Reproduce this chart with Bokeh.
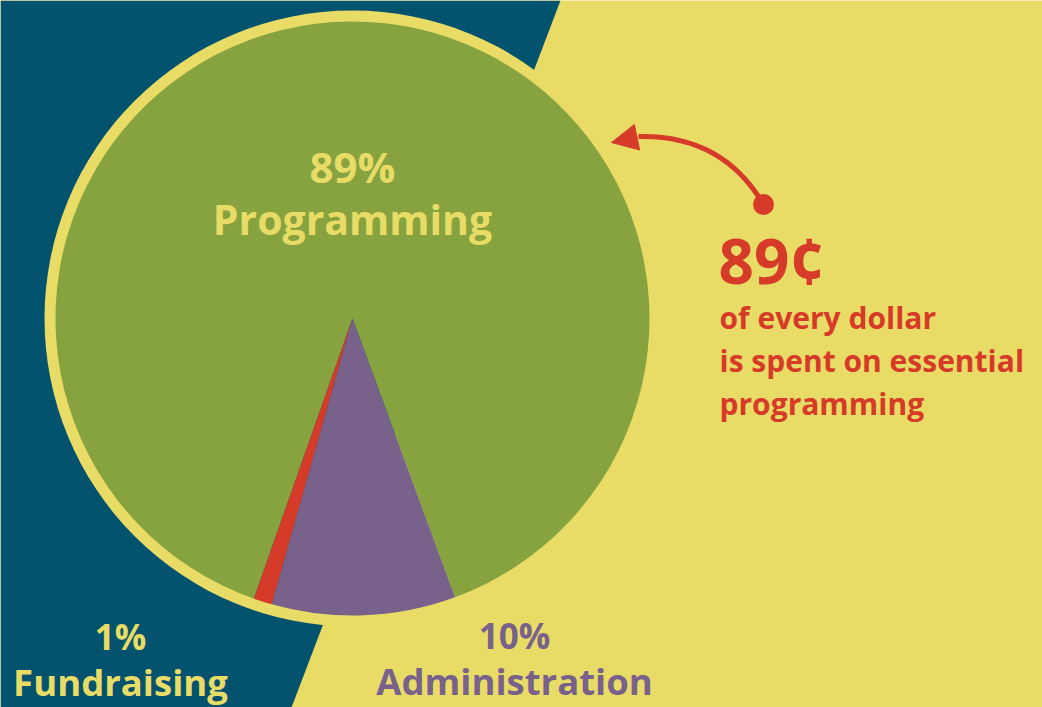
import numpy as np
from bokeh.plotting import figure
from bokeh.models import Range1d, Arrow, NormalHead
from bokeh.core.properties import value
from bokeh.embed import file_html
from bokeh.resources import INLINE

# ---- data ----
categories = ["Programming", "Administration", "Fundraising"]
percents = [89, 10, 1]
pct_labels = ["89%", "10%", "1%"]
headline = "89¢"
note_lines = ["of every dollar", "is spent on essential", "programming"]

# ---- style ----
TEAL = "#03536E"
YELLOW = "#E8DC66"
GREEN = "#86A340"
PURPLE = "#78628B"
RED = "#D63A28"
slice_colors = [GREEN, PURPLE, RED]
label_colors = [YELLOW, PURPLE, YELLOW]
FONT = "Open Sans"
BASE_SHIFT = 0.38  # baseline correction, fraction of font size

W, H = 1042, 707
cx, cy = 352, H - 318
R = 297
START = np.deg2rad(250.6)

p = figure(width=W, height=H, x_range=Range1d(0, W), y_range=Range1d(0, H),
           toolbar_location=None, output_backend="svg", min_border=0,
           x_axis_location=None, y_axis_location=None)
p.grid.visible = False
p.outline_line_color = None
p.background_fill_color = YELLOW
p.border_fill_color = YELLOW

# diagonal teal background
p.patch([0, 560, 291, 0], [H, H, 0, 0], fill_color=TEAL, line_color=None)

# ring
p.annulus(x=cx, y=cy, inner_radius=R - 2, outer_radius=R + 11,
          fill_color=YELLOW, line_color=None)

# pie slices, clockwise from START
fr = np.array(percents, dtype=float) / sum(percents) * 2 * np.pi
cum = np.concatenate([[0], np.cumsum(fr)])
starts = START - cum[:-1]
ends = START - cum[1:]
p.wedge(x=cx, y=cy, radius=R, start_angle=starts, end_angle=ends,
        direction="clock", fill_color=slice_colors, line_color=None)


def put(x, base_y_img, txt, color, size, align="center"):
    y = H - base_y_img + BASE_SHIFT * size
    p.text(x=[x], y=[y], text=[txt], text_color=color, text_align=align,
           text_baseline="alphabetic", text_font=value(FONT),
           text_font_style="bold", text_font_size=value(f"{size}px"))


# slice labels
lab_x = [352, 514, 120]
pct_y = [182, 648, 649]
name_y = [234, 694, 695]
pct_size = [42, 35, 35]
name_size = [41, 36.5, 36.5]
for i in range(3):
    put(lab_x[i], pct_y[i], pct_labels[i], label_colors[i], pct_size[i])
    put(lab_x[i], name_y[i], categories[i], label_colors[i], name_size[i])

# annotation
put(718, 283, headline, RED, 62, "left")
for j, line in enumerate(note_lines):
    put(719, 328 + 43 * j, line, RED, 30, "left")

# curved arrow
p.quadratic(x0=[763], y0=[H - 204], x1=[638], y1=[H - 136],
            cx=[722], cy=[H - 134], line_color=RED, line_width=5)
p.add_layout(Arrow(end=NormalHead(size=26, fill_color=RED, line_color=RED),
                   x_start=640, y_start=H - 136, x_end=611, y_end=H - 142,
                   line_alpha=0))
p.scatter(x=[763], y=[H - 204], size=21, fill_color=RED, line_color=None)

open("out.html", "w").write(file_html(p, INLINE))
